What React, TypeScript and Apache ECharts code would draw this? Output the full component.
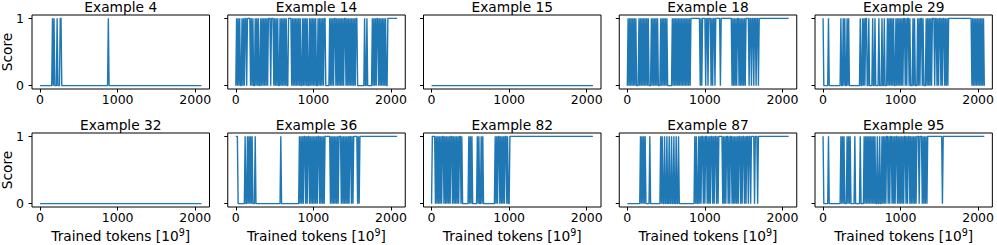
import React, { useEffect, useRef } from "react";
import * as echarts from "echarts";

// ---- data: score (0/1) per checkpoint, every 10e9 tokens from 0 to 2080;
// each string covers 100e9 tokens (10 checkpoints)
const TITLES = ["Example 4", "Example 14", "Example 15", "Example 18", "Example 29",
  "Example 32", "Example 36", "Example 82", "Example 87", "Example 95"];

const Z10 = "0000000000";
const O10 = "1111111111";

const EX4 = ["0000000000", "0000001010", "0010001100", Z10, Z10, Z10, Z10, Z10, "0000000010", Z10,
  Z10, Z10, Z10, Z10, Z10, Z10, Z10, Z10, Z10, Z10, "000000000"];
const EX14 = ["0101010010", "1011011110", "1010010101", "0010101010", "1011101110", "1010100101", "0101010011",
  "1101010101", "0101001010", "1010010101", "0101001010", "1010110000", "0101010110", "1010101010",
  "1101010101", "0101011000", "0000001001", "0000001010", "1011010101", "0101001111", "111111111"];
const EX15 = [Z10, Z10, Z10, Z10, Z10, Z10, Z10, Z10, Z10, Z10,
  Z10, Z10, Z10, Z10, Z10, Z10, Z10, Z10, Z10, Z10, "000000000"];
const EX18 = ["0101010101", "0100010101", "0101010100", "0101010101", "0001010101", "0100000010", "1010101010",
  "1010101010", "1011111111", "1111010111", "1011011101", "0110111111", "0111111111", "1111101010",
  "1011010101", "0101111011", "0110110110", O10, O10, O10, "111111111"];
const EX29 = ["1000000100", Z10, "0001001010", "0101000000", "0000000010", "0101011001", "0000100100",
  "0010001001", "0001010101", "0100101010", "1010110101", "1010001010", "0010101101", "0001010101",
  "0111011010", "1101011010", "1011111111", O10, O10, "1101010101", "010101010"];
const EX32 = [Z10, Z10, Z10, Z10, Z10, Z10, Z10, Z10, Z10, Z10,
  Z10, Z10, Z10, Z10, Z10, Z10, Z10, Z10, Z10, Z10, "000000000"];
const EX36 = ["1110000000", "0010010101", "0100010000", Z10, Z10, "0000000010", Z10, Z10,
  "0010101011", "0101101010", "1010101101", "0101011111", "1101010101", "0101110101", "0101010110",
  "1011111010", O10, O10, O10, O10, "111111111"];
const EX82 = ["0111101010", "1010110101", "0101011010", "1010101101", "0000000010", "1010000001",
  "0100101000", Z10, "0010101101", "0101011010", "0111111111", O10, O10, O10, O10, O10, O10, O10, O10, O10,
  "111111111"];
const EX87 = [Z10, "0000000101", "0101000001", Z10, "0001010010", "0100100100", "1001001000", Z10,
  "0000000101", "0010101101", "0110101011", "0101101011", "1110101011", "0101101010", "1010110101",
  "1010110110", "1111011101", O10, O10, O10, "111111111"];
const EX95 = ["1000000100", Z10, "0001010100", "0101010000", "0100000010", "0001010101", "0101010100",
  "1001001010", "1011010110", "1010110101", "0101011010", "1101010101", "0111011101", "0101011111",
  O10, "1111011111", O10, O10, O10, O10, "111111111"];

const X_TICKS = [0, 1000, 2000];
const Y_TICKS = [0, 1];
const LAST_TOKEN = 2080;

const SERIES_DATA = [EX4, EX14, EX15, EX18, EX29, EX32, EX36, EX82, EX87, EX95];

function expand(chunks: string[]): [number, number][] {
  const out: [number, number][] = [];
  chunks.forEach((c, i) => {
    c.split("").forEach((ch, j) => {
      const x = i * 100 + j * 10;
      if (x <= LAST_TOKEN) out.push([x, Number(ch)]);
    });
  });
  return out;
}

// ---- layout
const LEFT0 = 32;
const COL_STEP = 195.75;
const PW = 177.5;
const ROW_TOP = [15, 133];
const PH = 74;
const FONT = "DejaVu Sans";
const BLUE = "#1f77b4";

export default function App() {
  const ref = useRef<HTMLDivElement>(null);
  useEffect(() => {
    if (!ref.current) return;
    const chart = echarts.init(ref.current, null, { renderer: "svg" });
    const grids: any[] = [];
    const xAxes: any[] = [];
    const yAxes: any[] = [];
    const series: any[] = [];
    const graphics: any[] = [];
    SERIES_DATA.forEach((chunks, i) => {
      const row = Math.floor(i / 5);
      const col = i % 5;
      const left = LEFT0 + col * COL_STEP;
      const top = ROW_TOP[row];
      grids.push({
        left, top, width: PW, height: PH,
        show: true, borderColor: "#000", borderWidth: 1, backgroundColor: "transparent",
      });
      xAxes.push({
        gridIndex: i, type: "value", min: -104, max: 2184, position: "bottom",
        axisLine: { show: false, onZero: false }, splitLine: { show: false },
        axisTick: { show: true, inside: false, customValues: X_TICKS, length: 3.5, lineStyle: { color: "#000", width: 1 } },
        axisLabel: {
          customValues: X_TICKS, fontSize: 12.5, color: "#000", fontFamily: FONT, margin: 4,
          formatter: (v: number) => String(v),
        },
      });
      yAxes.push({
        gridIndex: i, type: "value", min: -0.05, max: 1.05, position: "left",
        axisLine: { show: false, onZero: false }, splitLine: { show: false },
        axisTick: { show: true, inside: false, customValues: Y_TICKS, length: 3.5, lineStyle: { color: "#000", width: 1 } },
        axisLabel: {
          show: col === 0, customValues: Y_TICKS, fontSize: 12.5, color: "#000", fontFamily: FONT, margin: 8,
          formatter: (v: number) => String(v),
        },
      });
      series.push({
        type: "line", xAxisIndex: i, yAxisIndex: i, data: expand(chunks),
        showSymbol: false, symbol: "none", lineStyle: { color: BLUE, width: 1.4 },
        itemStyle: { color: BLUE }, silent: true,
      });
      graphics.push({
        type: "text", x: left + PW / 2, y: top - 8,
        style: { text: TITLES[i], fontSize: 13.75, fontFamily: FONT, fill: "#000", align: "center", verticalAlign: "middle" },
      });
      if (col === 0) {
        graphics.push({
          type: "text", x: 6.5, y: top + PH / 2, rotation: Math.PI / 2,
          style: { text: "Score", fontSize: 13.75, fontFamily: FONT, fill: "#000", align: "center", verticalAlign: "middle" },
        });
      }
      if (row === 1) {
        graphics.push({
          type: "text", x: left + PW / 2, y: 236,
          style: {
            text: "{a|Trained tokens [10}{s|9}{a|]}",
            align: "center", verticalAlign: "middle", fill: "#000",
            rich: {
              a: { fontSize: 13.75, fontFamily: FONT, fill: "#000", lineHeight: 18 },
              s: { fontSize: 9.6, fontFamily: FONT, fill: "#000", verticalAlign: "top", lineHeight: 10 },
            },
          },
        });
      }
    });
    chart.setOption({
      animation: false,
      backgroundColor: "#fff",
      textStyle: { fontFamily: FONT },
      grid: grids,
      xAxis: xAxes,
      yAxis: yAxes,
      series,
      graphic: graphics,
    });
    return () => chart.dispose();
  }, []);
  return <div ref={ref} style={{ position: "fixed", left: 0, top: 0, width: 997, height: 245 }} />;
}
